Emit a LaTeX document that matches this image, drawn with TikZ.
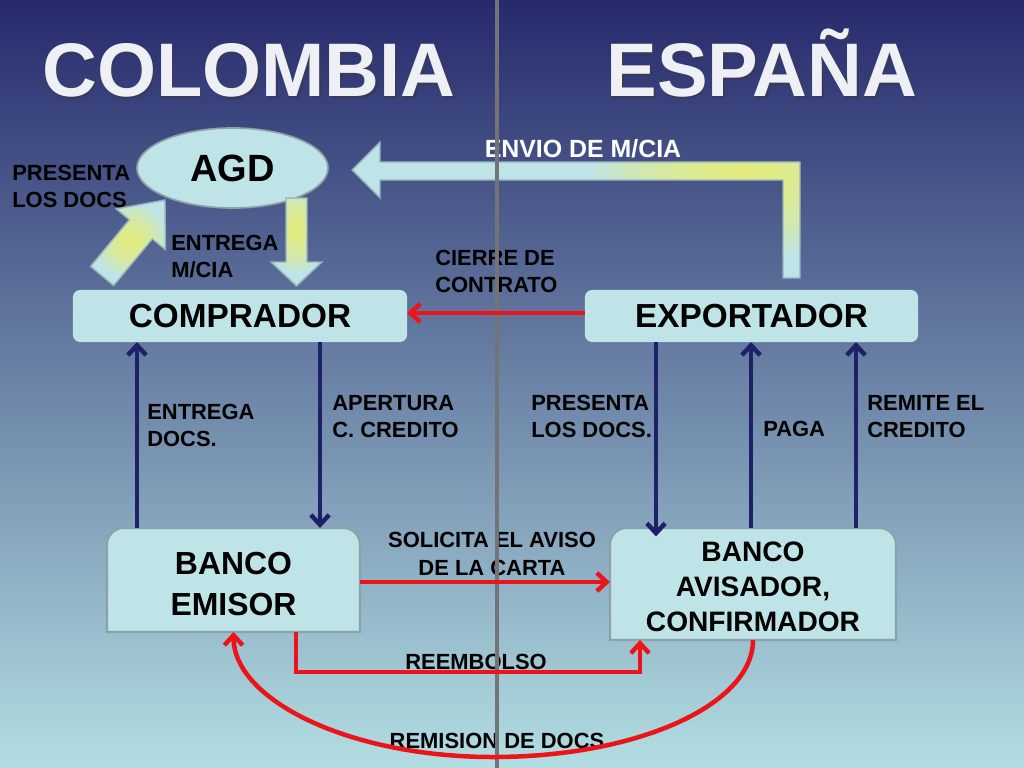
\documentclass[tikz,border=0pt]{standalone}
\usepackage{fontspec}
\setmainfont{Liberation Sans}
\usetikzlibrary{arrows.meta,shapes.geometric}
\definecolor{bgtop}{RGB}{38,42,108}
\definecolor{bgmid}{RGB}{125,158,180}
\definecolor{bgbot}{RGB}{178,222,226}
\definecolor{boxfill}{RGB}{190,228,232}
\definecolor{boxline}{RGB}{140,162,168}
\definecolor{blockline}{RGB}{150,178,184}
\definecolor{navyl}{RGB}{30,32,104}
\definecolor{redl}{RGB}{236,20,24}
\definecolor{glow}{RGB}{242,242,95}
\definecolor{divider}{RGB}{115,115,120}
\definecolor{titlec}{RGB}{238,240,245}
\definecolor{shadowc}{RGB}{55,58,88}
\begin{document}
\begin{tikzpicture}[x=0.025cm,y=-0.025cm,
  boxbase/.style={inner sep=0pt,outer sep=0pt},
  flatbox/.style={boxbase,rectangle,rounded corners=5pt,fill=boxfill},
  bankbox/.style={fill=boxfill,draw=boxline,line width=1.5pt},
  blockfill/.style={fill=boxfill},
  blockedge/.style={draw=blockline,line width=1pt},
  glowlayer/.style={fill=glow,opacity=0.13},
  titletext/.style={inner sep=0pt,anchor=base,font=\bfseries\fontsize{54}{60}\selectfont},
  bigtext/.style={font=\bfseries\fontsize{23.7}{28}\selectfont,text=black},
  banktext/.style={inner sep=0pt,align=center,font=\bfseries\fontsize{22.7}{29}\selectfont},
  banktextb/.style={inner sep=0pt,align=center,font=\bfseries\fontsize{20}{24.8}\selectfont},
  lbl/.style={inner sep=0pt,anchor=north west,align=left,font=\bfseries\fontsize{15.6}{19.1}\selectfont},
  lblc/.style={inner sep=0pt,anchor=north,align=center,font=\bfseries\fontsize{15.6}{19.6}\selectfont},
  navyarr/.style={draw=navyl,line width=3.2pt,-{Straight Barb[length=7pt,width=13pt]}},
  redarr/.style={draw=redl,line width=3.2pt,-{Straight Barb[length=7pt,width=13pt]}},
]
\useasboundingbox (0,0) rectangle (1024,768);
% background
\shade[top color=bgtop,middle color=bgmid,bottom color=bgbot] (0,0) rectangle (1024,768);

% titles
\node[titletext,text=shadowc] (tcolS) at (250.5,98.5) {COLOMBIA};
\node[titletext,text=titlec] (tcol) at (249,97) {COLOMBIA};
\node[titletext,text=shadowc] (tespS) at (763.5,98.5) {ESPAÑA};
\node[titletext,text=titlec] (tesp) at (762,97) {ESPAÑA};

% main boxes
\node[ellipse,fill=boxfill,draw=boxline,line width=1.2pt,minimum width=4.775cm,minimum height=2cm,inner sep=0pt,outer sep=0pt,font=\bfseries\fontsize{27}{30}\selectfont] (agd) at (232.5,168) {AGD};
\node[flatbox,minimum width=8.35cm,minimum height=1.3cm,bigtext] (comp) at (240,316) {COMPRADOR};
\node[flatbox,minimum width=8.325cm,minimum height=1.3cm,bigtext] (exp) at (751.5,316) {EXPORTADOR};

\node[boxbase,minimum width=6.325cm,minimum height=2.6cm] (be) at (233.5,580) {};
\filldraw[bankbox] (be.south west) [rounded corners=12pt] -- (be.north west) -- (be.north east) [sharp corners] -- (be.south east) -- cycle;
\node[banktext] (beT) at (233.5,584) {BANCO\\EMISOR};

\node[boxbase,minimum width=7.15cm,minimum height=2.8cm] (bav) at (753,584) {};
\filldraw[bankbox] (bav.south west) [rounded corners=12pt] -- (bav.north west) -- (bav.north east) [sharp corners] -- (bav.south east) -- cycle;
\node[banktextb] (bavT) at (753,587) {BANCO\\AVISADOR,\\CONFIRMADOR};

% block arrows
\def\envioshape{(800,278) -- (800,162) -- (380,162) -- (380,142) -- (352,170) -- (380,198) -- (380,180) -- (783,180) -- (783,278) -- cycle}
\def\downshape{(286,198) -- (307,198) -- (307,262) -- (322,262) -- (296.5,286) -- (271,262) -- (286,262) -- cycle}
\def\diagshape{(113.6,285.6) -- (90.5,266.4) -- (129.3,219.7) -- (116.2,208.9) -- (165,200) -- (165.4,249.7) -- (152.4,238.9) -- cycle}
\fill[blockfill] \envioshape;
\begin{scope}
  \clip \envioshape;
  \foreach \s in {1,0.9,0.8,0.7,0.6,0.5,0.4,0.3,0.2,0.1}
    \fill[glowlayer] (745,172) ellipse ({150*\s} and {85*\s});
\end{scope}
\draw[blockedge] \envioshape;
\fill[blockfill] \downshape;
\begin{scope}
  \clip \downshape;
  \foreach \s in {1,0.9,0.8,0.7,0.6,0.5,0.4,0.3,0.2,0.1}
    \fill[glowlayer] (297,230) ellipse ({30*\s} and {42*\s});
\end{scope}
\draw[blockedge] \downshape;
\fill[blockfill] \diagshape;
\begin{scope}
  \clip \diagshape;
  \foreach \s in {1,0.9,0.8,0.7,0.6,0.5,0.4,0.3,0.2,0.1}
    \fill[glowlayer] (131,241) ellipse ({36*\s} and {36*\s});
\end{scope}
\draw[blockedge] \diagshape;

% labels
\node[lbl] (l1) at (12,165) {PRESENTA\\LOS DOCS};
\node[lbl] (l2) at (171,235) {ENTREGA\\M/CIA};
\node[lbl] (l3) at (435,250) {CIERRE DE\\CONTRATO};
\node[inner sep=0pt,anchor=north,text=white,font=\bfseries\fontsize{17.7}{21}\selectfont] (l4) at (583,139) {ENVIO DE M/CIA};
\node[lbl] (l5) at (147,404) {ENTREGA\\DOCS.};
\node[lbl] (l6) at (332,395) {APERTURA\\C. CREDITO};
\node[lbl] (l7) at (531,395) {PRESENTA\\LOS DOCS.};
\node[lbl] (l8) at (763,421) {PAGA};
\node[lbl] (l9) at (867,395) {REMITE EL\\CREDITO};
\node[lblc] (l10) at (492,532) {SOLICITA EL AVISO\\DE LA CARTA};
\node[lblc] (l11) at (476,654) {REEMBOLSO};
\node[lblc] (l12) at (497,733) {REMISION DE DOCS};

% divider
\coordinate (dtop) at (497,0);
\coordinate (dbot) at (497,768);
\draw[divider,line width=2.8pt] (dtop) -- (dbot);

% helper coordinates
\coordinate (xa) at (137,0);
\coordinate (xb) at (320,0);
\coordinate (xc) at (656,0);
\coordinate (xd) at (751,0);
\coordinate (xe) at (856,0);
\coordinate (ycierre) at (0,313);
\coordinate (ysol) at (0,582);
\coordinate (rb) at (296,672);
\coordinate (x640) at (640,0);

% navy arrows
\draw[navyarr] (be.north -| xa) -- (comp.south -| xa);
\draw[navyarr] (comp.south -| xb) -- (be.north -| xb);
\draw[navyarr] (exp.south -| xc) -- ([yshift=-6pt]bav.north -| xc);
\draw[navyarr] (bav.north -| xd) -- (exp.south -| xd);
\draw[navyarr] (bav.north -| xe) -- (exp.south -| xe);

% red arrows
\draw[redarr] (exp.west |- ycierre) -- (comp.east |- ycierre);
\draw[redarr] (be.east |- ysol) -- (bav.west |- ysol);
\draw[redarr] (be.south -| rb) -- (rb) -| (bav.south -| x640);
\draw[redarr] (bav.south) .. controls (753,705) and (637,757) .. (493,757) .. controls (349,757) and (233.5,700) .. (be.south);
\end{tikzpicture}
\end{document}
